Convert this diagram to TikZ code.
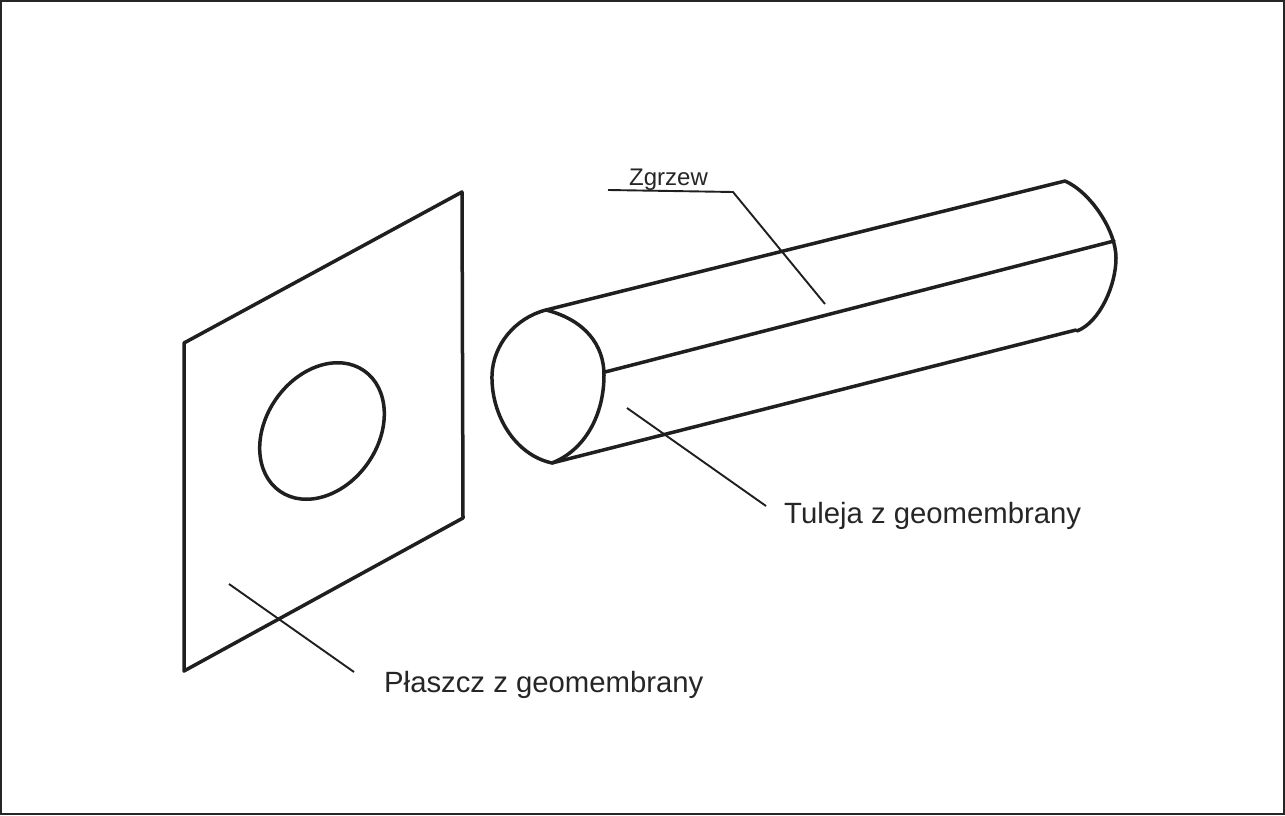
\documentclass[tikz,border=0pt]{standalone}
\usepackage{fontspec}
\setmainfont{Liberation Sans}
\tikzset{thick line/.style={line width=3.5pt,black!88,line join=round,line cap=round},thin line/.style={line width=1.9pt,black!88,line join=round},lab/.style={inner sep=0pt,anchor=base west,text=black!85}}
\begin{document}
\begin{tikzpicture}[x=1pt,y=-1pt,yshift=815pt]
\useasboundingbox (0,0) rectangle (1285,815);
\fill[white] (0,0) rectangle (1285,815);
\draw[line width=2.2pt,black!85] (1,1) rectangle (1284,814);
\draw[thick line,line cap=butt] (184,343) -- (462,192) -- (463,518) -- (184,671) -- cycle;
\draw[thick line,rotate around={55:(322,431)}] (322,431) ellipse [x radius=73.5pt,y radius=56pt];
\draw[thick line] (546,310) -- (1065,181);
\draw[thick line] (552,463) -- (1076,330);
\draw[thick line] (605,372) -- (1114,241);
\draw[thick line] (1065,181) .. controls (1090,192) and (1116,230) .. (1116,258) .. controls (1116,285) and (1100,322) .. (1077,331);
\draw[thick line] (546,310) .. controls (515,318) and (493,345) .. (492,375) .. controls (491,415) and (515,455) .. (552,463);
\draw[thick line] (552,463) .. controls (585,450) and (604,415) .. (604,375) .. controls (604,345) and (585,320) .. (546,310);
\coordinate (z1) at (608,190);
\coordinate (z2) at (733,192);
\coordinate (z3) at (825,304);
\draw[thin line] (z1) -- (z2) -- (z3);
\coordinate (t1) at (627,408);
\coordinate (t2) at (766,506);
\draw[thin line] (t1) -- (t2);
\coordinate (p1) at (229,584);
\coordinate (p2) at (354,672);
\draw[thin line] (p1) -- (p2);
\node[lab,font=\fontsize{24pt}{26pt}\selectfont] (zg) at (629,186) {Zgrzew};
\node[lab,font=\fontsize{29.3pt}{32pt}\selectfont] (tu) at (784,523) {Tuleja z geomembrany};
\node[lab,font=\fontsize{29.3pt}{32pt}\selectfont] (pl) at (384,692) {Płaszcz z geomembrany};
\end{tikzpicture}
\end{document}
